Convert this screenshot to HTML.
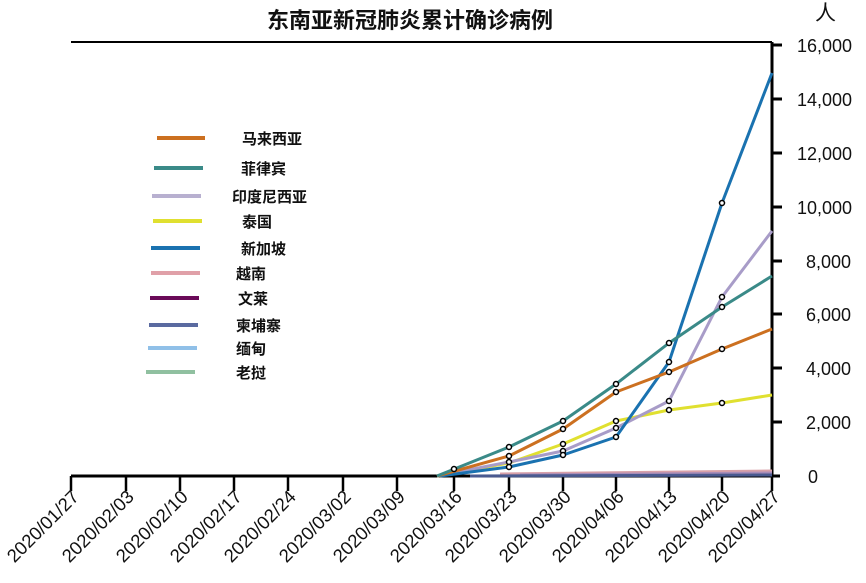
<!DOCTYPE html>
<html><head><meta charset="utf-8"><style>
body{margin:0;background:#fff}
svg{display:block}
text{font-family:"Liberation Sans","Noto Sans CJK SC",sans-serif}
.c{font-weight:bold;font-size:15px;fill:#111}
</style></head><body>
<svg width="866" height="583" viewBox="0 0 866 583" xmlns="http://www.w3.org/2000/svg">
<rect width="866" height="583" fill="#fff"/>
<text x="410" y="28" text-anchor="middle" font-size="22" font-weight="bold" fill="#111">东南亚新冠肺炎累计确诊病例</text>
<text x="815" y="20" font-size="21" fill="#111">人</text>
<line x1="71" y1="42" x2="772" y2="42" stroke="#000" stroke-width="2"/>
<line x1="772" y1="42" x2="772" y2="477" stroke="#000" stroke-width="3"/>
<line x1="71" y1="476" x2="780" y2="476" stroke="#000" stroke-width="3"/>
<g stroke="#000" stroke-width="3">
<line x1="772" y1="45" x2="782" y2="45"/><line x1="772" y1="99" x2="782" y2="99"/><line x1="772" y1="153" x2="782" y2="153"/><line x1="772" y1="207" x2="782" y2="207"/><line x1="772" y1="261" x2="782" y2="261"/><line x1="772" y1="314" x2="782" y2="314"/><line x1="772" y1="368" x2="782" y2="368"/><line x1="772" y1="422" x2="782" y2="422"/>
</g>
<g font-size="18" fill="#111">
<text x="797" y="52">16,000</text><text x="797" y="106">14,000</text><text x="797" y="160">12,000</text><text x="797" y="214">10,000</text><text x="806" y="268">8,000</text><text x="806" y="321">6,000</text><text x="806" y="375">4,000</text><text x="806" y="429">2,000</text><text x="808" y="483">0</text>
</g>
<g stroke="#000" stroke-width="2.5">
<line x1="71" y1="476" x2="71" y2="491"/><line x1="126" y1="476" x2="126" y2="491"/><line x1="180" y1="476" x2="180" y2="491"/><line x1="234" y1="476" x2="234" y2="491"/><line x1="288" y1="476" x2="288" y2="491"/><line x1="343" y1="476" x2="343" y2="491"/><line x1="397" y1="476" x2="397" y2="491"/><line x1="454" y1="476" x2="454" y2="491"/><line x1="509" y1="476" x2="509" y2="491"/><line x1="563" y1="476" x2="563" y2="491"/><line x1="616" y1="476" x2="616" y2="491"/><line x1="669" y1="476" x2="669" y2="491"/><line x1="722" y1="476" x2="722" y2="491"/><line x1="772" y1="476" x2="772" y2="491"/>
</g>
<g font-size="18.5" fill="#111" text-anchor="end">
<text transform="translate(80,498) rotate(-45)">2020/01/27</text>
<text transform="translate(135,498) rotate(-45)">2020/02/03</text>
<text transform="translate(189,498) rotate(-45)">2020/02/10</text>
<text transform="translate(243,498) rotate(-45)">2020/02/17</text>
<text transform="translate(297,498) rotate(-45)">2020/02/24</text>
<text transform="translate(352,498) rotate(-45)">2020/03/02</text>
<text transform="translate(406,498) rotate(-45)">2020/03/09</text>
<text transform="translate(463,498) rotate(-45)">2020/03/16</text>
<text transform="translate(518,498) rotate(-45)">2020/03/23</text>
<text transform="translate(572,498) rotate(-45)">2020/03/30</text>
<text transform="translate(625,498) rotate(-45)">2020/04/06</text>
<text transform="translate(678,498) rotate(-45)">2020/04/13</text>
<text transform="translate(731,498) rotate(-45)">2020/04/20</text>
<text transform="translate(781,498) rotate(-45)">2020/04/27</text>
</g>
<g fill="none" stroke-width="3" stroke-linejoin="round">
<polyline stroke="#d8a0a8" points="500,474 772,471"/>
<polyline stroke="#a88cb8" points="520,475 772,473"/>
<polyline stroke="#4a5a90" points="470,476 772,475"/>
<polyline stroke="#e0e030" points="437,476 509,463 563,444 616,421 669,410 722,403 772,395"/>
<polyline stroke="#a89cc8" points="437,476 509,462 563,451 616,428 669,401 722,297 772,231"/>
<polyline stroke="#1a72b0" points="440,476 509,467 563,455 616,437 669,362 722,203 772,73"/>
<polyline stroke="#cc7020" points="437,476 509,456 563,429 616,392 669,372 722,349 772,329"/>
<polyline stroke="#3a8a88" points="437,476 509,447 563,421 616,384 669,343 722,307 772,276"/>
</g>
<g fill="#fff" stroke="#000" stroke-width="1.5">
<circle cx="454" cy="469" r="2.5"/>
<circle cx="509" cy="447" r="2.5"/><circle cx="509" cy="456" r="2.5"/><circle cx="509" cy="462" r="2.5"/><circle cx="509" cy="467" r="2.5"/>
<circle cx="563" cy="421" r="2.5"/><circle cx="563" cy="429" r="2.5"/><circle cx="563" cy="444" r="2.5"/><circle cx="563" cy="451" r="2.5"/><circle cx="563" cy="455" r="2.5"/>
<circle cx="616" cy="384" r="2.5"/><circle cx="616" cy="392" r="2.5"/><circle cx="616" cy="421" r="2.5"/><circle cx="616" cy="428" r="2.5"/><circle cx="616" cy="437" r="2.5"/>
<circle cx="669" cy="343" r="2.5"/><circle cx="669" cy="362" r="2.5"/><circle cx="669" cy="372" r="2.5"/><circle cx="669" cy="401" r="2.5"/><circle cx="669" cy="410" r="2.5"/>
<circle cx="722" cy="203" r="2.5"/><circle cx="722" cy="297" r="2.5"/><circle cx="722" cy="307" r="2.5"/><circle cx="722" cy="349" r="2.5"/><circle cx="722" cy="403" r="2.5"/>
</g>
<g stroke-width="4">
<line x1="157" y1="138" x2="205" y2="138" stroke="#cc7020"/>
<line x1="154" y1="168" x2="203" y2="168" stroke="#3a8a88"/>
<line x1="152" y1="196" x2="201" y2="196" stroke="#b8b0d0"/>
<line x1="153" y1="221" x2="202" y2="221" stroke="#e0e030"/>
<line x1="151" y1="248" x2="200" y2="248" stroke="#1a72b0"/>
<line x1="151" y1="273" x2="200" y2="273" stroke="#e0a0a8"/>
<line x1="150" y1="298" x2="199" y2="298" stroke="#6a0a58"/>
<line x1="149" y1="325" x2="198" y2="325" stroke="#5a6aa0"/>
<line x1="148" y1="348" x2="197" y2="348" stroke="#90c0e8"/>
<line x1="146" y1="372" x2="195" y2="372" stroke="#90c0a0"/>
</g>
<g>
<text class="c" x="242" y="144">马来西亚</text>
<text class="c" x="241" y="174">菲律宾</text>
<text class="c" x="232" y="202">印度尼西亚</text>
<text class="c" x="242" y="227">泰国</text>
<text class="c" x="241" y="254">新加坡</text>
<text class="c" x="236" y="279">越南</text>
<text class="c" x="238" y="304">文莱</text>
<text class="c" x="236" y="331">柬埔寨</text>
<text class="c" x="236" y="354">缅甸</text>
<text class="c" x="236" y="378">老挝</text>
</g>
</svg>
</body></html>
